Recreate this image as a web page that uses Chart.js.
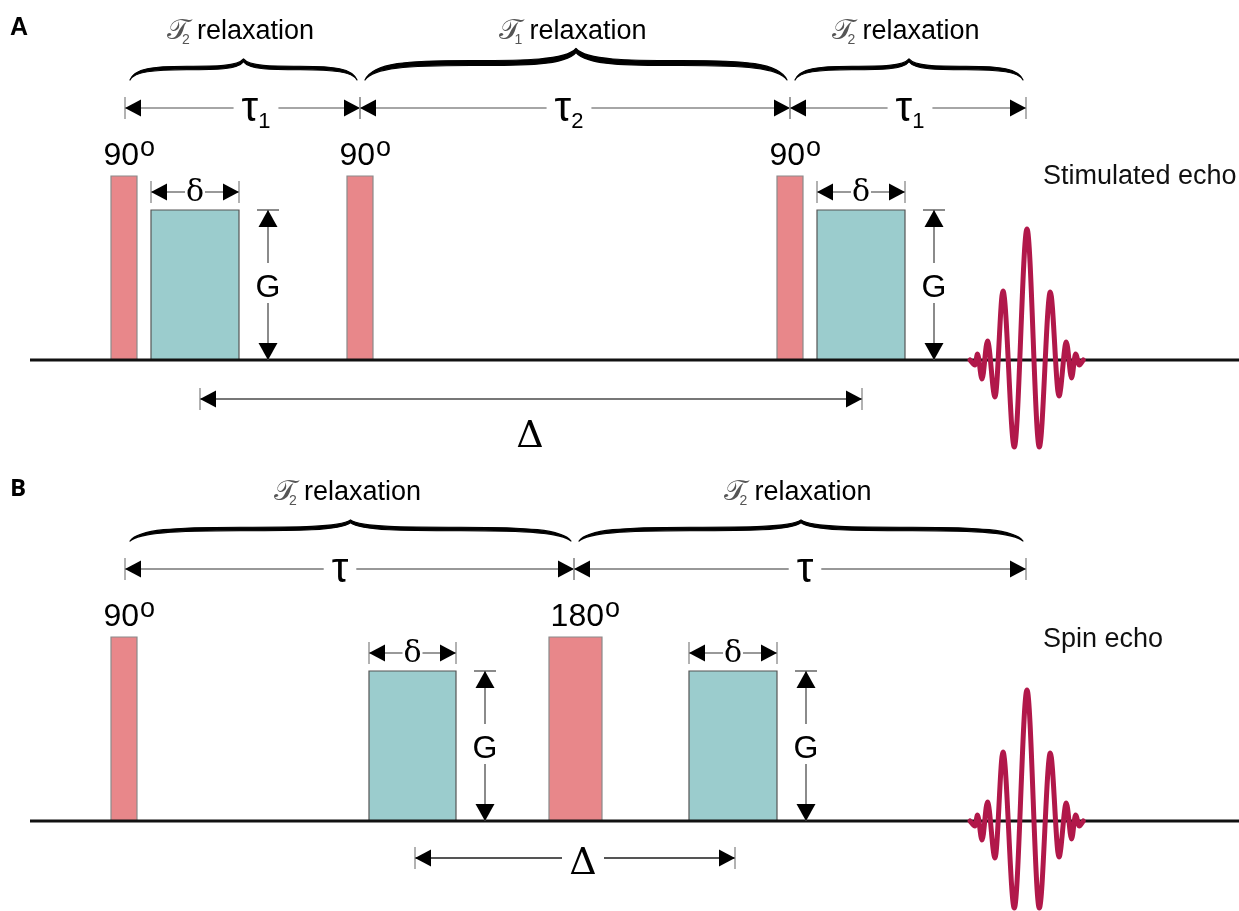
<!DOCTYPE html>
<html>
<head>
<meta charset="utf-8">
<script src="https://cdn.jsdelivr.net/npm/chart.js@4.4.1/dist/chart.umd.min.js"></script>
<style>
  html, body { margin: 0; padding: 0; background: #fff; }
  canvas { display: block; }
</style>
</head>
<body>
<canvas id="panelA" width="1239" height="460"></canvas>
<canvas id="panelB" width="1239" height="451"></canvas>
<script>
// time axis in ms (arbitrary), amplitude in a.u.
const timeRange = [-12.5, 111.4];
const ampRangeA = [-1.0, 3.6];
const ampRangeB = [-0.9, 3.61];

const rfAmp = 1.84;
const gradAmp = 1.5;

// A - stimulated echo
const rfStartA = [-1.4, 22.2, 65.2];
const rfEndA = [1.2, 24.8, 67.8];
const rfAngleA = ['90', '90', '90'];
const gradStartA = [2.6, 69.2];
const gradEndA = [11.4, 78.0];
const tauMarksA = [0, 23.5, 66.5, 90.1];
const tauNamesA = ['1', '2', '1'];
const tauLabelXA = [13.1, 44.4, 78.5];
const relaxNamesA = ['2', '1', '2'];
const bigDeltaA = [7.5, 73.7];

// B - spin echo
const rfStartB = [-1.4, 42.4];
const rfEndB = [1.2, 47.7];
const rfAngleB = ['90', '180'];
const gradStartB = [24.4, 56.4];
const gradEndB = [33.1, 65.2];
const tauMarksB = [0, 44.9, 90.1];
const tauNamesB = ['', ''];
const tauLabelXB = [21.5, 68.0];
const relaxNamesB = ['2', '2'];
const bigDeltaB = [29.0, 61.0];

// echo shape (offset from echo centre, amplitude at each extremum)
const echoTime = 90.2;
const echoOffset = [-5.7, -5.2, -4.95, -4.5, -3.95, -3.2, -2.4, -1.27, 0, 1.23, 2.33, 3.2, 3.93, 4.46, 4.86, 5.23, 5.63];
const echoAmp = [0, -0.05, 0.06, -0.19, 0.19, -0.37, 0.69, -0.87, 1.31, -0.87, 0.68, -0.36, 0.18, -0.18, 0.06, -0.05, 0];

const SANS = '"Liberation Sans", Arial, sans-serif';
const SERIF = '"DejaVu Serif", "Liberation Serif", serif';

function head(ctx, tx, ty, dx, dy, L, H) {
    ctx.beginPath();
    ctx.moveTo(tx, ty);
    ctx.lineTo(tx - dx * L - dy * H, ty - dy * L + dx * H);
    ctx.lineTo(tx - dx * L + dy * H, ty - dy * L - dx * H);
    ctx.closePath();
    ctx.fill();
}

function hArrow(ctx, x0, x1, y, color, lw) {
    ctx.strokeStyle = color;
    ctx.lineWidth = lw;
    ctx.beginPath(); ctx.moveTo(x0, y); ctx.lineTo(x1, y); ctx.stroke();
    ctx.strokeStyle = '#999';
    ctx.lineWidth = 1.5;
    ctx.beginPath();
    ctx.moveTo(x0, y - 11); ctx.lineTo(x0, y + 11);
    ctx.moveTo(x1, y - 11); ctx.lineTo(x1, y + 11);
    ctx.stroke();
    ctx.fillStyle = '#000';
    head(ctx, x0, y, -1, 0, 16, 8.5);
    head(ctx, x1, y, 1, 0, 16, 8.5);
}

function vArrow(ctx, x, yTop, yBot) {
    ctx.strokeStyle = '#666';
    ctx.lineWidth = 1.5;
    ctx.beginPath();
    ctx.moveTo(x, yTop); ctx.lineTo(x, yBot);
    ctx.moveTo(x - 11, yTop); ctx.lineTo(x + 11, yTop);
    ctx.stroke();
    ctx.fillStyle = '#000';
    head(ctx, x, yTop, 0, -1, 17, 9.5);
    head(ctx, x, yBot, 0, 1, 17, 9.5);
}

function braceEdge(ctx, xa, xb, yEnd, yF, yTip, move) {
    const L = (xb - xa) / 2, xm = (xa + xb) / 2;
    if (move) ctx.moveTo(xa, yEnd); else ctx.lineTo(xa, yEnd);
    ctx.bezierCurveTo(xa + 0.04 * L, yF + 2, xa + 0.2 * L, yF, xa + 0.5 * L, yF);
    ctx.bezierCurveTo(xm - 0.25 * L, yF, xm - 0.05 * L, yF, xm, yTip);
    ctx.bezierCurveTo(xm + 0.05 * L, yF, xm + 0.25 * L, yF, xb - 0.5 * L, yF);
    ctx.bezierCurveTo(xb - 0.2 * L, yF, xb - 0.04 * L, yF + 2, xb, yEnd);
}

function drawBrace(ctx, x0, x1, yEnd, yFlat, yTip, w) {
    ctx.beginPath();
    braceEdge(ctx, x0, x1, yEnd, yFlat - w / 2, yTip - w * 0.3, true);
    braceEdge(ctx, x1, x0, yEnd, yFlat + w / 2, yTip + w * 0.5, false);
    ctx.closePath();
    ctx.fillStyle = '#000';
    ctx.fill();
    ctx.lineWidth = 1.2;
    ctx.lineJoin = 'round';
    ctx.strokeStyle = '#000';
    ctx.stroke();
}

function relaxLabel(ctx, cx, base, sub) {
    ctx.font = '27px ' + SANS;
    const wRel = ctx.measureText('relaxation').width;
    const x0 = cx - (30 + wRel) / 2;
    ctx.textAlign = 'left';
    ctx.fillStyle = '#555';
    ctx.font = '29px "DejaVu Sans", "DejaVu Serif", serif';
    ctx.fillText('\u{1D4AF}', x0, base);
    ctx.font = '14px ' + SANS;
    ctx.fillText(sub, x0 + 15, base + 5);
    ctx.fillStyle = '#000';
    ctx.font = '27px ' + SANS;
    ctx.fillText('relaxation', x0 + 30, base);
}

function tauLabel(ctx, cx, y, sub) {
    ctx.font = '42px ' + SANS;
    const wt = ctx.measureText('\u03C4').width;
    ctx.font = '22px ' + SANS;
    const ws = sub ? ctx.measureText(sub).width : 0;
    const x0 = cx - (wt + ws) / 2;
    ctx.fillStyle = '#fff';
    ctx.fillRect(x0 - 8, y - 14, wt + ws + 16, 28);
    ctx.fillStyle = '#000';
    ctx.textAlign = 'left';
    ctx.font = '42px ' + SANS;
    ctx.fillText('\u03C4', x0, y + 13);
    if (sub) {
        ctx.font = '22px ' + SANS;
        ctx.fillText(sub, x0 + wt, y + 20);
    }
}

const diagramPlugin = {
    id: 'diagram',
    afterDatasetsDraw(chart, args, o) {
        const ctx = chart.ctx;
        const X = v => chart.scales.x.getPixelForValue(v);
        const Y = v => chart.scales.y.getPixelForValue(v);
        ctx.save();
        ctx.textBaseline = 'alphabetic';

        // panel letter
        ctx.fillStyle = '#000';
        ctx.textAlign = 'left';
        ctx.font = o.letterFont;
        ctx.fillText(o.letter, X(-11.5), Y(3.25));

        // braces, relaxation labels, tau arrows
        for (let i = 0; i < o.tauMarks.length - 1; i++) {
            const a = X(o.tauMarks[i] + 0.5), b = X(o.tauMarks[i + 1] - 0.3);
            const thick = o.relax[i] === '1';
            drawBrace(ctx, a, b, Y(2.80), Y(thick ? 2.97 : 2.92), Y(thick ? 3.10 : 3.0), thick ? 5 : 3.5);
            relaxLabel(ctx, (a + b) / 2 - 3, Y(3.21), o.relax[i]);
            hArrow(ctx, X(o.tauMarks[i]), X(o.tauMarks[i + 1]), Y(2.52), o.tauColor, o.tauWidth);
        }
        for (let i = 0; i < o.tauLabelX.length; i++) {
            tauLabel(ctx, X(o.tauLabelX[i]), Y(2.52), o.tauNames[i]);
        }

        // RF flip angle labels
        o.rfEnd.forEach((e, i) => {
            const xr = X(e) + 2, yb = Y(1.95);
            ctx.fillStyle = '#000';
            ctx.textAlign = 'right';
            ctx.font = '32px ' + SANS;
            ctx.fillText(o.rfAngle[i], xr, yb);
            ctx.textAlign = 'left';
            ctx.font = '27px ' + SANS;
            ctx.fillText('o', xr + 1, yb - 9);
        });

        // gradient width (delta) and strength (G)
        o.gradStart.forEach((s, i) => {
            const x0 = X(s), x1 = X(o.gradEnd[i]), yd = Y(1.68);
            hArrow(ctx, x0, x1, yd, '#777', 1.5);
            const cx = (x0 + x1) / 2;
            ctx.fillStyle = '#fff';
            ctx.fillRect(cx - 10, yd - 11, 20, 22);
            ctx.fillStyle = '#000';
            ctx.textAlign = 'center';
            ctx.font = '30px ' + SERIF;
            ctx.fillText('\u03B4', cx, yd + 9);

            const gx = x1 + (X(2.9) - X(0));
            vArrow(ctx, gx, Y(gradAmp), Y(0));
            const gy = Y(gradAmp / 2);
            ctx.fillStyle = '#fff';
            ctx.fillRect(gx - 14, gy - 22, 28, 40);
            ctx.fillStyle = '#000';
            ctx.font = '32px ' + SANS;
            ctx.fillText('G', gx, gy + 12);
        });

        // diffusion time
        const dy = Y(o.deltaY);
        hArrow(ctx, X(o.bigDelta[0]), X(o.bigDelta[1]), dy, o.deltaColor, 2);
        ctx.font = '38px ' + SERIF;
        ctx.textAlign = 'center';
        if (o.deltaInline) {
            const cx = X(o.deltaLabelX);
            ctx.fillStyle = '#fff';
            ctx.fillRect(cx - 21, dy - 16, 42, 32);
            ctx.fillStyle = '#000';
            ctx.fillText('\u0394', cx, dy + 16);
        } else {
            ctx.fillStyle = '#000';
            ctx.fillText('\u0394', X(o.deltaLabelX), Y(o.deltaLabelY) + 15);
        }

        // echo name
        ctx.textAlign = 'left';
        ctx.font = '27px ' + SANS;
        ctx.fillStyle = '#111';
        ctx.fillText(o.echoName, X(91.8), Y(o.echoNameY));

        ctx.restore();
    }
};

function rect(s, e, h) {
    return [{x: s, y: 0}, {x: s, y: h}, {x: e, y: h}, {x: e, y: 0}];
}

function buildPanel(id, p) {
    const datasets = [];
    datasets.push({
        data: echoOffset.map((d, i) => ({x: echoTime + d, y: echoAmp[i]})),
        showLine: true, borderColor: '#B1184A', borderWidth: 5,
        cubicInterpolationMode: 'monotone', borderCapStyle: 'round', borderJoinStyle: 'round',
        pointRadius: 0, order: 0
    });
    datasets.push({
        data: [{x: -9.5, y: 0}, {x: timeRange[1], y: 0}],
        showLine: true, borderColor: '#111', borderWidth: 3, pointRadius: 0, order: 1
    });
    p.rfStart.forEach((s, i) => datasets.push({
        data: rect(s, p.rfEnd[i], rfAmp), showLine: true, fill: 'origin',
        backgroundColor: '#E8878A', borderColor: '#8a8a8a', borderWidth: 1.2, pointRadius: 0, order: 2
    }));
    p.gradStart.forEach((s, i) => datasets.push({
        data: rect(s, p.gradEnd[i], gradAmp), showLine: true, fill: 'origin',
        backgroundColor: '#9BCCCD', borderColor: '#555', borderWidth: 1.2, pointRadius: 0, order: 2
    }));

    return new Chart(document.getElementById(id), {
        type: 'scatter',
        data: { datasets },
        options: {
            responsive: false,
            animation: false,
            events: [],
            layout: { padding: 0 },
            scales: {
                x: { type: 'linear', min: timeRange[0], max: timeRange[1], display: false },
                y: { type: 'linear', min: p.ampRange[0], max: p.ampRange[1], display: false }
            },
            plugins: {
                legend: { display: false },
                tooltip: { enabled: false },
                diagram: p
            }
        },
        plugins: [diagramPlugin]
    });
}

buildPanel('panelA', {
    ampRange: ampRangeA, letter: 'A', letterFont: 'bold 25px ' + SANS,
    rfStart: rfStartA, rfEnd: rfEndA, rfAngle: rfAngleA,
    gradStart: gradStartA, gradEnd: gradEndA,
    tauMarks: tauMarksA, tauNames: tauNamesA, tauLabelX: tauLabelXA, relax: relaxNamesA,
    tauColor: '#888', tauWidth: 1.5,
    bigDelta: bigDeltaA, deltaY: -0.39, deltaColor: '#777', deltaInline: false,
    deltaLabelX: 40.5, deltaLabelY: -0.72,
    echoName: 'Stimulated echo', echoNameY: 1.76
});

buildPanel('panelB', {
    ampRange: ampRangeB, letter: 'B', letterFont: 'bold 24px "Open Sans", sans-serif',
    rfStart: rfStartB, rfEnd: rfEndB, rfAngle: rfAngleB,
    gradStart: gradStartB, gradEnd: gradEndB,
    tauMarks: tauMarksB, tauNames: tauNamesB, tauLabelX: tauLabelXB, relax: relaxNamesB,
    tauColor: '#333', tauWidth: 1.2,
    bigDelta: bigDeltaB, deltaY: -0.37, deltaColor: '#555', deltaInline: true,
    deltaLabelX: 45.8,
    echoName: 'Spin echo', echoNameY: 1.74
});
</script>
</body>
</html>
